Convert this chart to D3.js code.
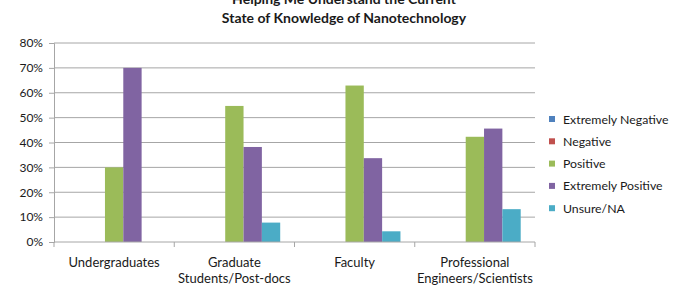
<!DOCTYPE html>
<html>
<head>
<meta charset="utf-8">
<script src="https://cdn.jsdelivr.net/npm/d3@7"></script>
<style>
  body { margin: 0; background: #fff; }
  text { font-family: Lato, "Open Sans", sans-serif; fill: #1a1a1a; }
</style>
</head>
<body>
<svg id="chart"></svg>
<script>
const categories = ['Undergraduates', 'Graduate\nStudents/Post-docs', 'Faculty', 'Professional\nEngineers/Scientists'];
const seriesNames = ['Extremely Negative', 'Negative', 'Positive', 'Extremely Positive', 'Unsure/NA'];
const seriesColors = ['#4F81BD', '#C0504D', '#9BBB59', '#8064A2', '#4BACC6'];
const extremelyNegative = [0, 0, 0, 0];
const negative = [0, 0, 0, 0];
const positive = [0.30, 0.547, 0.629, 0.423];
const extremelyPositive = [0.70, 0.382, 0.337, 0.456];
const unsure = [0, 0.078, 0.043, 0.132];
const yTicks = [0, 0.1, 0.2, 0.3, 0.4, 0.5, 0.6, 0.7, 0.8];
const titleLines = ['Helping Me Understand the Current', 'State of Knowledge of Nanotechnology'];

const seriesValues = [extremelyNegative, negative, positive, extremelyPositive, unsure];

const config = {
    width: 689,
    height: 292,
    margin: { top: 43, left: 54, right: 154, bottom: 50 }
};

const svg = d3.select('#chart')
    .attr('width', config.width)
    .attr('height', config.height);

const innerW = config.width - config.margin.left - config.margin.right;
const innerH = 242 - config.margin.top;

const chart = svg.append('g')
    .attr('transform', `translate(${config.margin.left},${config.margin.top})`);

const x0 = d3.scaleBand().domain(categories).range([0, innerW]).padding(0);
const x1 = d3.scaleBand().domain(seriesNames).range([0, x0.bandwidth()])
    .paddingInner(0).paddingOuter(0.78);
const y = d3.scaleLinear().domain([0, 0.8]).range([innerH, 0]);

// gridlines
chart.append('g')
    .selectAll('line')
    .data(yTicks.slice(1))
    .join('line')
    .attr('x1', 0).attr('x2', innerW)
    .attr('y1', d => y(d)).attr('y2', d => y(d))
    .attr('stroke', '#a6a6a6').attr('stroke-width', 1);

// y axis
const yAxisG = chart.append('g')
    .call(d3.axisLeft(y).tickValues(yTicks).tickFormat(d3.format('.0%')).tickSize(5).tickPadding(6))
    .call(g => g.select('.domain').attr('stroke', '#a6a6a6'));
yAxisG.selectAll('line').attr('stroke', '#a6a6a6');
yAxisG.selectAll('text').style('font-size', '12px').attr('fill', '#1a1a1a');

// bars
const rows = [];
categories.forEach((c, i) => {
    seriesNames.forEach((s, j) => {
        rows.push({ cat: c, series: s, value: seriesValues[j][i], color: seriesColors[j] });
    });
});

chart.append('g')
    .selectAll('rect')
    .data(rows.filter(d => d.value > 0))
    .join('rect')
    .attr('x', d => x0(d.cat) + x1(d.series))
    .attr('width', x1.bandwidth())
    .attr('y', d => y(d.value))
    .attr('height', d => innerH - y(d.value))
    .attr('fill', d => d.color);

// x axis
chart.append('line')
    .attr('x1', 0).attr('x2', innerW)
    .attr('y1', innerH).attr('y2', innerH)
    .attr('stroke', '#a6a6a6');

chart.append('g')
    .selectAll('line')
    .data(categories.map((c, i) => i).concat([categories.length]))
    .join('line')
    .attr('x1', i => i * x0.step()).attr('x2', i => i * x0.step())
    .attr('y1', innerH).attr('y2', innerH + 5)
    .attr('stroke', '#a6a6a6');

const catLabels = chart.append('g')
    .selectAll('text')
    .data(categories)
    .join('text')
    .attr('x', d => x0(d) + x0.bandwidth() / 2)
    .attr('y', innerH + 25)
    .attr('text-anchor', 'middle')
    .style('font-size', '13px');
catLabels.each(function(d) {
    const lines = d.split('\n');
    d3.select(this).selectAll('tspan')
        .data(lines)
        .join('tspan')
        .attr('x', x0(d) + x0.bandwidth() / 2)
        .attr('dy', (l, i) => i === 0 ? 0 : 15.5)
        .text(l => l);
});

// title (top line is cut by the frame in the original, as here)
svg.append('g')
    .selectAll('text')
    .data(titleLines)
    .join('text')
    .attr('x', 344)
    .attr('y', (d, i) => 4 + i * 19)
    .attr('text-anchor', 'middle')
    .style('font-size', '14px')
    .style('font-weight', 'bold')
    .text(d => d);

// legend
const legend = svg.append('g')
    .attr('transform', 'translate(549,119)');
const legendItems = legend.selectAll('g')
    .data(seriesNames)
    .join('g')
    .attr('transform', (d, i) => `translate(0,${i * 22.3})`);
legendItems.append('rect')
    .attr('x', 0).attr('y', -3)
    .attr('width', 6).attr('height', 6)
    .attr('fill', (d, i) => seriesColors[i]);
legendItems.append('text')
    .attr('x', 14).attr('y', 4.5)
    .style('font-size', '12.3px')
    .text(d => d);
</script>
</body>
</html>
